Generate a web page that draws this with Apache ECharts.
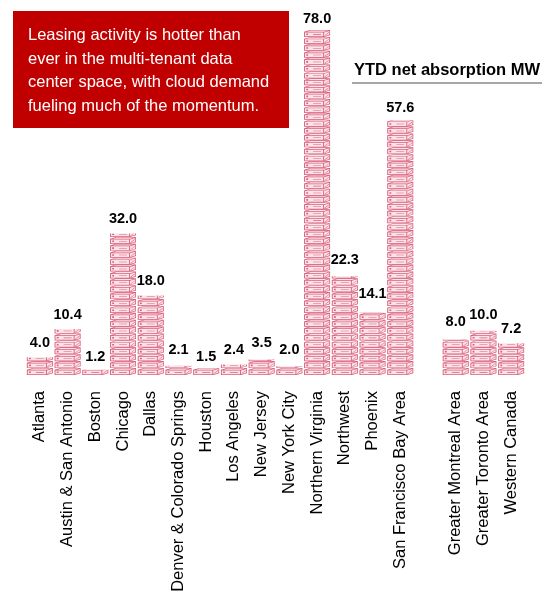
<!DOCTYPE html>
<html>
<head>
<meta charset="utf-8">
<script src="https://cdn.jsdelivr.net/npm/echarts@6/dist/echarts.min.js"></script>
<style>
html,body{margin:0;padding:0;background:#fff;}
#chart{width:560px;height:596px;}
</style>
</head>
<body>
<div id="chart"></div>
<script>
var categories = ['Atlanta','Austin & San Antonio','Boston','Chicago','Dallas','Denver & Colorado Springs','Houston','Los Angeles','New Jersey','New York City','Northern Virginia','Northwest','Phoenix','San Francisco Bay Area','','Greater Montreal Area','Greater Toronto Area','Western Canada'];
var absorptionMW = [4.0,10.4,1.2,32.0,18.0,2.1,1.5,2.4,3.5,2.0,78.0,22.3,14.1,57.6,null,8.0,10.0,7.2];
var chartTitle = 'YTD net absorption MW';
var calloutLines = ['Leasing activity is hotter than','ever in the multi-tenant data','center space, with cloud demand','fueling much of the momentum.'];

// server unit: solid faces (fill layer) and thin edges (outline layer), both in a 26x8 box
var serverFill = 'path://M0,2 L20,2 L20,8 L0,8 Z M0,2 L6,0 L26,0 L20,2 Z M20,2 L26,0 L26,6 L20,8 Z';
var serverEdges = 'path://' +
  'M0,2 L20,2 L20,8 L0,8 Z M0.9,2.8 L0.9,7.2 L19.1,7.2 L19.1,2.8 Z ' +
  'M6,0 L26,0 L26,0.7 L6,0.7 Z ' +
  'M0,2 L6,0 L6,0.8 L0,2.8 Z ' +
  'M20,2 L26,0 L26,0.8 L20,2.8 Z ' +
  'M20,7.2 L26,5.2 L26,6 L20,8 Z ' +
  'M25.2,0 L26,0 L26,6 L25.2,6 Z ' +
  'M20.5,6.2 L24.8,2.4 L24.8,3.1 L20.5,6.9 Z ' +
  'M2.2,4 L4,4 L4,5.8 L2.2,5.8 Z ' +
  'M9,4.7 L17,4.7 L17,5.3 L9,5.3 Z';
var font = 'Arial, "Liberation Sans", sans-serif';

var common = {
  type: 'pictorialBar',
  data: absorptionMW,
  symbolRepeat: true,
  symbolClip: true,
  symbolSize: [26, 7],
  symbolMargin: 0,
  barCategoryGap: '5%',
  barGap: '-100%'
};

var chart = echarts.init(document.getElementById('chart'));
chart.setOption({
  animation: false,
  grid: {left: 26, right: 35, top: 30, bottom: 221},
  xAxis: {
    type: 'category',
    data: categories,
    axisLine: {show: false},
    axisTick: {show: false},
    axisLabel: {interval: 0, rotate: 90, margin: 16, color: '#000', fontSize: 16.5, fontFamily: font}
  },
  yAxis: {type: 'value', min: 0, max: 78, show: false},
  graphic: [
    {type: 'rect', left: 13, top: 11, shape: {width: 276, height: 117}, style: {fill: '#c00000'}},
    {type: 'text', left: 28, top: 24, style: {text: calloutLines.join('\n'), fill: '#fff', font: '16.5px ' + font, lineHeight: 23.5}},
    {type: 'text', left: 354, top: 62, style: {text: chartTitle, fill: '#000', font: 'bold 16.5px ' + font}},
    {type: 'line', shape: {x1: 352, y1: 83, x2: 542, y2: 83}, style: {stroke: '#8a8a8a', lineWidth: 1.5}}
  ],
  series: [
    Object.assign({}, common, {
      name: 'fill',
      symbol: serverFill,
      itemStyle: {color: '#fbe4e9'}
    }),
    Object.assign({}, common, {
      name: 'edges',
      symbol: serverEdges,
      itemStyle: {color: '#d9607c'},
      label: {
        show: true, position: 'top', distance: 4, color: '#000', fontWeight: 'bold', fontSize: 14.5, fontFamily: font,
        formatter: function (p) { return p.value == null ? '' : Number(p.value).toFixed(1); }
      }
    })
  ]
});
</script>
</body>
</html>
